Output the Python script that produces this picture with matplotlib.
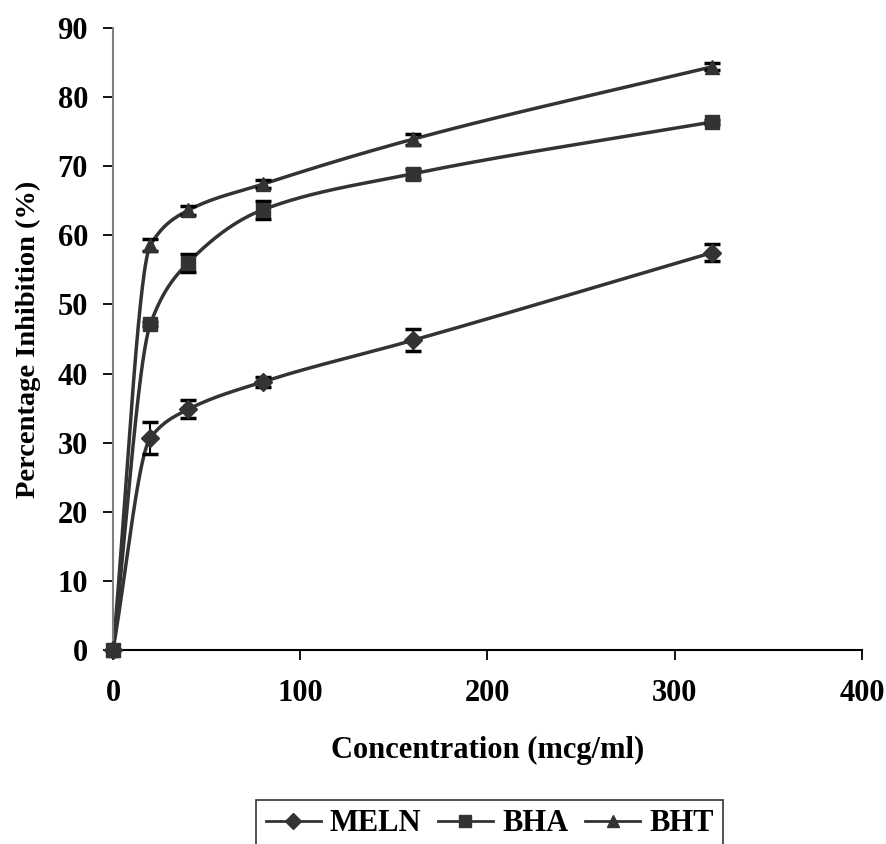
import numpy as np
import matplotlib.pyplot as plt

plt.rcParams['font.family'] = ['Liberation Serif', 'DejaVu Serif']
plt.rcParams['font.weight'] = 'bold'

# Dades llegides del gràfic
conc = [0, 20, 40, 80, 160, 320]
meln = [0, 30.7, 34.8, 38.8, 44.8, 57.5]
meln_err = [0, 2.3, 1.3, 0.7, 1.6, 1.2]
bha = [0, 47.2, 56.0, 63.7, 68.9, 76.4]
bha_err = [0, 0.3, 1.3, 1.3, 0.7, 0.3]
bht = [0, 58.6, 63.6, 67.4, 73.9, 84.4]
bht_err = [0, 0.8, 0.6, 0.6, 0.8, 0.5]

series = [('MELN', meln, meln_err, 'D', 9),
          ('BHA', bha, bha_err, 's', 10),
          ('BHT', bht, bht_err, '^', 10)]

line_color = '#333333'


def suavitza(x, y, n=60):
    # interpolació cúbica monòtona (Fritsch-Carlson) per fer la línia suau
    x = np.asarray(x, float)
    y = np.asarray(y, float)
    h = np.diff(x)
    d = np.diff(y) / h
    m = np.zeros(len(x))
    m[0] = d[0]
    m[-1] = d[-1]
    for k in range(1, len(x) - 1):
        if d[k - 1] * d[k] > 0:
            w1 = 2 * h[k] + h[k - 1]
            w2 = h[k] + 2 * h[k - 1]
            m[k] = (w1 + w2) / (w1 / d[k - 1] + w2 / d[k])
    xs, ys = [], []
    for k in range(len(x) - 1):
        t = np.linspace(0, 1, n)
        h00 = 2 * t**3 - 3 * t**2 + 1
        h10 = t**3 - 2 * t**2 + t
        h01 = -2 * t**3 + 3 * t**2
        h11 = t**3 - t**2
        xs.extend(x[k] + t * h[k])
        ys.extend(h00 * y[k] + h10 * h[k] * m[k] + h01 * y[k + 1] + h11 * h[k] * m[k + 1])
    return xs, ys


fig = plt.figure(figsize=(8.87, 8.44), dpi=100)
ax = fig.add_axes([0.1274, 0.2299, 0.8444, 0.7369])

handles = []
for nom, vals, err, mk, ms in series:
    sx, sy = suavitza(conc, vals)
    ax.plot(sx, sy, color=line_color, lw=2.5, zorder=2)
    ax.errorbar(conc, vals, yerr=err, fmt='none', ecolor='black', elinewidth=1.5,
                capsize=6, capthick=2.5, zorder=3)
    ax.plot(conc, vals, linestyle='none', marker=mk, ms=ms, color=line_color,
            zorder=4, clip_on=False)
    h, = ax.plot([], [], color=line_color, lw=2, marker=mk, ms=ms - 1, label=nom)
    handles.append(h)

ax.set_xlim(0, 400)
ax.set_ylim(0, 90)
ax.set_xticks([0, 100, 200, 300, 400])
ax.set_yticks(np.arange(0, 91, 10))
ax.spines['top'].set_visible(False)
ax.spines['right'].set_visible(False)
ax.spines['left'].set_color('#808080')
ax.spines['left'].set_linewidth(1.5)
ax.spines['bottom'].set_linewidth(1.5)
ax.tick_params(axis='both', direction='out', length=7, width=1.3, labelsize=22, pad=11)
ax.tick_params(axis='x', pad=14)

ax.set_xlabel('Concentration (mcg/ml)', fontsize=22, fontweight='bold', labelpad=20)
ax.set_ylabel('Percentage Inhibition (%)', fontsize=20.5, fontweight='bold', labelpad=12)

leg = fig.legend(handles=handles, loc='upper center', bbox_to_anchor=(0.552, 0.052), ncol=3,
                 frameon=True, fancybox=False, edgecolor='black', fontsize=22,
                 handlelength=1.8, handletextpad=0.3, columnspacing=0.55, borderpad=0.3,
                 borderaxespad=0)
leg.get_frame().set_linewidth(1.2)

plt.savefig('out.png', dpi=100)
